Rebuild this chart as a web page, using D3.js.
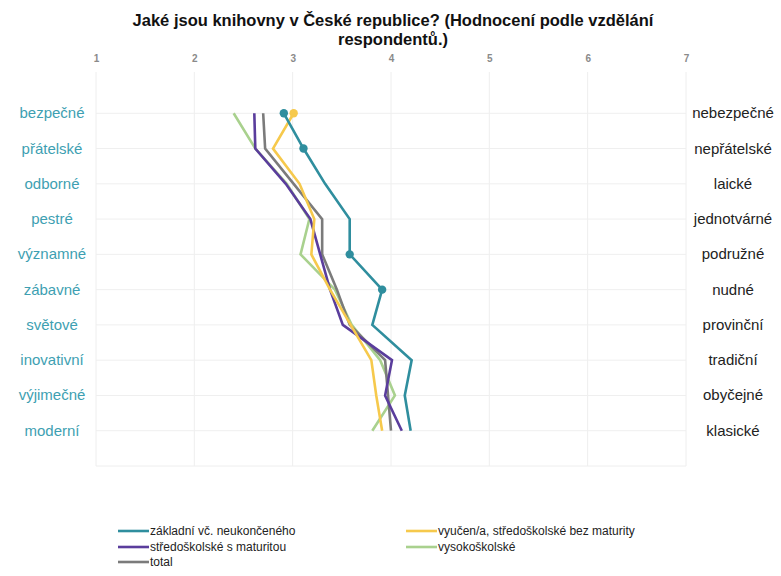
<!DOCTYPE html>
<html>
<head>
<meta charset="utf-8">
<script src="https://cdn.jsdelivr.net/npm/d3@7"></script>
<style>
body { margin: 0; background: #fff; font-family: "Liberation Sans", Arial, sans-serif; }
</style>
</head>
<body>
<svg width="781" height="576"></svg>
<script>
// data
let categories = ["bezpečné", "přátelské", "odborné", "pestré", "významné", "zábavné", "světové", "inovativní", "výjimečné", "moderní"]
let opposites = ["nebezpečné", "nepřátelské", "laické", "jednotvárné", "podružné", "nudné", "provinční", "tradiční", "obyčejné", "klasické"]
let tickValues = [1, 2, 3, 4, 5, 6, 7]

let zakladni = [2.91, 3.11, 3.33, 3.58, 3.58, 3.91, 3.81, 4.21, 4.14, 4.20]
let vyucen = [3.01, 2.80, 3.07, 3.22, 3.19, 3.38, 3.59, 3.80, 3.85, 3.91]
let maturita = [2.61, 2.62, 2.93, 3.18, 3.28, 3.38, 3.51, 4.01, 3.94, 4.11]
let vysoko = [2.40, 2.62, 2.94, 3.17, 3.08, 3.43, 3.60, 3.89, 4.04, 3.81]
let total = [2.70, 2.72, 3.01, 3.30, 3.30, 3.45, 3.58, 3.94, 3.97, 4.00]

let seriesNames = ["základní vč. neukončeného", "vyučen/a, středoškolské bez maturity", "středoškolské s maturitou", "vysokoškolské", "total"]
let seriesColors = ["#2f8e9e", "#f6c94c", "#5a3d9c", "#a9d18e", "#7b7b7b"]
// which points carry a dot
let seriesDots = [[0, 1, 4, 5], [0], [], [], []]

let series = [zakladni, vyucen, maturita, vysoko, total].map((vals, i) => ({
    name: seriesNames[i],
    color: seriesColors[i],
    dots: seriesDots[i],
    values: vals.map((v, j) => ({ cat: categories[j], v: v }))
}))

let svg = d3.select("svg")

let x = d3.scaleLinear().domain([1, 7]).range([96, 686])
let y = d3.scalePoint().domain(categories).range([78, 466]).padding(1)

// title
svg.append("text")
    .attr("x", 393).attr("y", 26)
    .attr("text-anchor", "middle")
    .style("font-weight", "bold").style("font-size", "16.5px").style("fill", "#111")
    .text("Jaké jsou knihovny v České republice? (Hodnocení podle vzdělání")
svg.append("text")
    .attr("x", 393).attr("y", 45)
    .attr("text-anchor", "middle")
    .style("font-weight", "bold").style("font-size", "16.5px").style("fill", "#111")
    .text("respondentů.)")

// grid
svg.selectAll(".vgrid")
    .data(tickValues)
    .join("line")
    .attr("x1", d => x(d)).attr("x2", d => x(d))
    .attr("y1", 72).attr("y2", 466)
    .style("stroke", "#eeeeee").style("stroke-width", 1)

svg.selectAll(".hgrid")
    .data(categories)
    .join("line")
    .attr("x1", x(1)).attr("x2", x(7))
    .attr("y1", d => y(d)).attr("y2", d => y(d))
    .style("stroke", "#efefef").style("stroke-width", 1)

svg.append("line")
    .attr("x1", x(1)).attr("x2", x(7))
    .attr("y1", 466).attr("y2", 466)
    .style("stroke", "#eeeeee")

// top axis
let axis = svg.append("g")
    .attr("transform", "translate(0,62)")
    .call(d3.axisTop(x).tickValues(tickValues).tickFormat(d3.format("d")).tickSize(0).tickPadding(0))
axis.select(".domain").remove()
axis.selectAll("text")
    .style("font-family", "Liberation Sans, Arial, sans-serif")
    .style("font-size", "10px").style("font-weight", "bold").style("fill", "#8a8a8a")

// row labels
svg.selectAll(".left")
    .data(categories)
    .join("text")
    .attr("x", 52).attr("y", d => y(d) + 5)
    .attr("text-anchor", "middle")
    .style("font-size", "15px").style("fill", "#3e9fb2")
    .text(d => d)

svg.selectAll(".right")
    .data(opposites)
    .join("text")
    .attr("x", 733).attr("y", (d, i) => y(categories[i]) + 5)
    .attr("text-anchor", "middle")
    .style("font-size", "15px").style("fill", "#222")
    .text(d => d)

// lines
let line = d3.line()
    .x(d => x(d.v))
    .y(d => y(d.cat))

// draw in reverse so základní sits on top
let drawOrder = [3, 4, 2, 1, 0]
drawOrder.forEach(i => {
    let s = series[i]
    svg.append("path")
        .datum(s.values)
        .attr("d", line)
        .style("fill", "none")
        .style("stroke", s.color)
        .style("stroke-width", 2.6)
        .style("stroke-linejoin", "miter")

    svg.selectAll(".dot-" + i)
        .data(s.dots.map(j => s.values[j]))
        .join("circle")
        .attr("cx", d => x(d.v))
        .attr("cy", d => y(d.cat))
        .attr("r", 4.2)
        .style("fill", s.color)
})

// legend
let legendPos = [[118, 531], [406, 531], [118, 547], [406, 547], [118, 562]]
let legendOrder = [0, 1, 2, 3, 4]
let legend = svg.selectAll(".legend")
    .data(legendOrder)
    .join("g")
    .attr("transform", (d, k) => "translate(" + legendPos[k][0] + "," + legendPos[k][1] + ")")

legend.append("line")
    .attr("x1", 0).attr("x2", 31)
    .attr("y1", 0).attr("y2", 0)
    .style("stroke", d => series[d].color)
    .style("stroke-width", 2.6)

legend.append("text")
    .attr("x", 32).attr("y", 4)
    .style("font-size", "12px").style("fill", "#222")
    .text(d => series[d].name)
</script>
</body>
</html>
